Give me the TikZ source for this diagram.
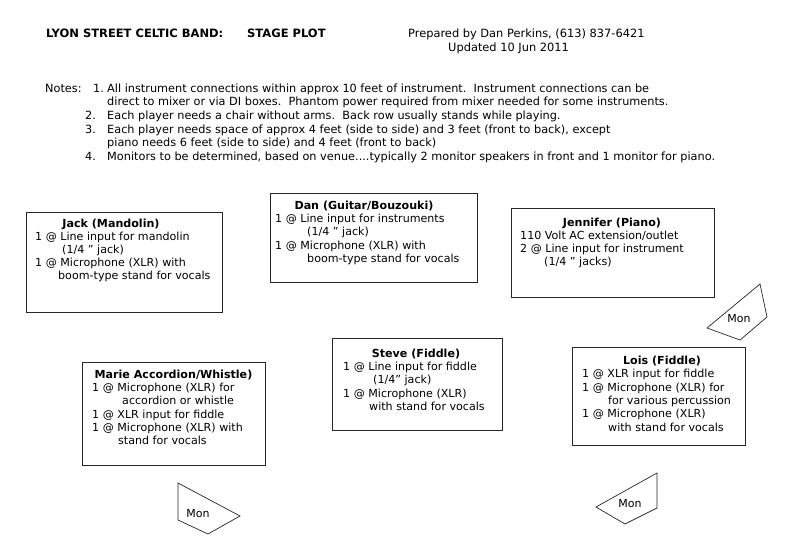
\documentclass[tikz,border=0pt]{standalone}
\usepackage{fontspec}
\setmainfont{DejaVu Sans}
\tikzset{
  box/.style={draw=black!85, line width=0.9pt, inner sep=0pt, rectangle},
  txt/.style={anchor=base west, inner sep=0pt, font=\fontsize{11.1}{13}\selectfont},
  hdrtxt/.style={anchor=base west, inner sep=0pt, font=\fontsize{11.4}{13}\selectfont},
  ttl/.style={anchor=base, inner sep=0pt, font=\fontsize{11.1}{13}\selectfont\bfseries},
  hdr/.style={anchor=base west, inner sep=0pt, font=\fontsize{11.5}{13}\selectfont\bfseries},
  note/.style={anchor=base west, inner sep=0pt, font=\fontsize{11.3}{13}\selectfont},
  montxt/.style={inner sep=0pt, font=\fontsize{11}{13}\selectfont},
  monshape/.style={draw=black!85, line width=0.7pt, line join=miter},
}
\begin{document}
\begin{tikzpicture}[x=1pt,y=-1pt]
\useasboundingbox[fill=white] (0,0) rectangle (800,557);

% Header
\node[hdr] (h1) at (46,37) {LYON STREET CELTIC BAND:};
\node[hdr] (h2) at (247,37) {STAGE PLOT};
\node[hdrtxt] (h3) at (408,37) {Prepared by Dan Perkins, (613) 837-6421};
\node[hdrtxt] (h4) at (448,51) {Updated 10 Jun 2011};

% Notes
\node[note] (nlab) at (45,92) {Notes:};
\node[note] (n1num) at (93,92) {1.};
\node[note] (n1a) at (107,92) {All instrument connections within approx 10 feet of instrument.~~Instrument connections can be};
\node[note] (n1b) at (107,105) {direct to mixer or via DI boxes.~~Phantom power required from mixer needed for some instruments.};
\node[note] (n2num) at (85,119) {2.};
\node[note] (n2a) at (107,119) {Each player needs a chair without arms.~~Back row usually stands while playing.};
\node[note] (n3num) at (85,133) {3.};
\node[note] (n3a) at (107,133) {Each player needs space of approx 4 feet (side to side) and 3 feet (front to back), except};
\node[note] (n3b) at (107,146) {piano needs 6 feet (side to side) and 4 feet (front to back)};
\node[note] (n4num) at (85,160) {4.};
\node[note] (n4a) at (107,160) {Monitors to be determined, based on venue....typically 2 monitor speakers in front and 1 monitor for piano.};

% Boxes
\node[box, minimum width=196, minimum height=100] (jackbox) at (124,262) {};
\node[box, minimum width=207, minimum height=89] (danbox) at (373.5,237.5) {};
\node[box, minimum width=203, minimum height=89] (jenbox) at (612.5,252.5) {};
\node[box, minimum width=183, minimum height=103] (mariebox) at (173.5,413.5) {};
\node[box, minimum width=170, minimum height=92] (stevebox) at (417,384) {};
\node[box, minimum width=173, minimum height=98] (loisbox) at (658.5,396) {};

% Jack
\node[ttl] (jackt) at (111,227) {Jack (Mandolin)};
\node[txt] (jack1) at (35,240) {1 @ Line input for mandolin};
\node[txt] (jack2) at (62,253) {(1/4 ” jack)};
\node[txt] (jack3) at (35,266) {1 @ Microphone (XLR) with};
\node[txt] (jack4) at (58,279) {boom-type stand for vocals};

% Dan
\node[ttl] (dant) at (364,209) {Dan (Guitar/Bouzouki)};
\node[txt] (dan1) at (275,222) {1 @ Line input for instruments};
\node[txt] (dan2) at (307,235) {(1/4 ” jack)};
\node[txt] (dan3) at (275,249) {1 @ Microphone (XLR) with};
\node[txt] (dan4) at (307,262) {boom-type stand for vocals};

% Jennifer
\node[ttl] (jent) at (612,226) {Jennifer (Piano)};
\node[txt] (jen1) at (520,239) {110 Volt AC extension/outlet};
\node[txt] (jen2) at (520,252) {2 @ Line input for instrument};
\node[txt] (jen3) at (544,265) {(1/4 ” jacks)};

% Marie
\node[ttl] (mariet) at (173.5,378) {Marie Accordion/Whistle)};
\node[txt] (marie1) at (92,391) {1 @ Microphone (XLR) for};
\node[txt] (marie2) at (122,404) {accordion or whistle};
\node[txt] (marie3) at (92,418) {1 @ XLR input for fiddle};
\node[txt] (marie4) at (92,431) {1 @ Microphone (XLR) with};
\node[txt] (marie5) at (118,444) {stand for vocals};

% Steve
\node[ttl] (stevet) at (416,357) {Steve (Fiddle)};
\node[txt] (steve1) at (343,370) {1 @ Line input for fiddle};
\node[txt] (steve2) at (373,383) {(1/4” jack)};
\node[txt] (steve3) at (343,397) {1 @ Microphone (XLR)};
\node[txt] (steve4) at (369,410) {with stand for vocals};

% Lois
\node[ttl] (loist) at (662,364) {Lois (Fiddle)};
\node[txt] (lois1) at (582,377) {1 @ XLR input for fiddle};
\node[txt] (lois2) at (582,391) {1 @ Microphone (XLR) for};
\node[txt] (lois3) at (608,404) {for various percussion};
\node[txt] (lois4) at (582,417) {1 @ Microphone (XLR)};
\node[txt] (lois5) at (608,431) {with stand for vocals};

% Monitors
\draw[monshape] (760,284) -- (767,317) -- (740,340) -- (707,328) -- cycle;
\node[montxt] (mon1) at (739,319) {Mon};
\draw[monshape] (178,483) -- (240,516) -- (208,534) -- (178,520) -- cycle;
\node[montxt] (mon2) at (198,514) {Mon};
\draw[monshape] (657,473) -- (657,508) -- (625,524) -- (596,507) -- cycle;
\node[montxt] (mon3) at (630,504) {Mon};
\end{tikzpicture}
\end{document}
